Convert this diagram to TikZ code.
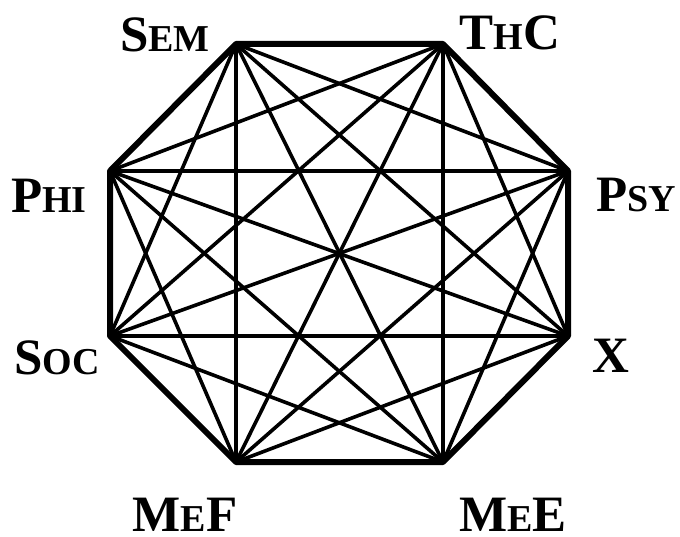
\documentclass[tikz,border=0pt]{standalone}
\usepackage{fontspec}
\setmainfont{Liberation Serif}
\newcommand{\bigL}[1]{{\fontsize{51}{51}\selectfont #1}}
\newcommand{\smL}[1]{{\fontsize{38}{38}\selectfont #1}}
\begin{document}
\begin{tikzpicture}[x=1pt,y=-1pt,
  edge/.style={line width=3.6pt,line cap=round},
  rim/.style={line width=6pt,line join=round,line cap=round},
  lab/.style={font=\bfseries,inner sep=0pt,anchor=base}]
\useasboundingbox (0,0) rectangle (680,537);
\coordinate (v1) at (236,44);
\coordinate (v2) at (443,44);
\coordinate (v3) at (568,171);
\coordinate (v4) at (568,336);
\coordinate (v5) at (443,462);
\coordinate (v6) at (236,462);
\coordinate (v7) at (110,336);
\coordinate (v8) at (110,171);
\foreach \i in {1,...,8}{
  \foreach \j in {1,...,8}{
    \ifnum\i<\j
      \draw[edge] (v\i) -- (v\j);
    \fi
  }
}
\draw[rim] (v1) -- (v2) -- (v3) -- (v4) -- (v5) -- (v6) -- (v7) -- (v8) -- cycle;
\node[lab] (sem) at (165,52) {\bigL{S}\smL{EM}};
\node[lab] (thc) at (510,50) {\bigL{T}\smL{H}\bigL{C}};
\node[lab] (phi) at (49,213) {\bigL{P}\smL{HI}};
\node[lab] (psy) at (636,212) {\bigL{P}\smL{SY}};
\node[lab] (soc) at (57,374) {\bigL{S}\smL{OC}};
\node[lab] (x) at (611,372) {\bigL{X}};
\node[lab] (mef) at (185,531) {\bigL{M}\smL{E}\bigL{F}};
\node[lab] (mee) at (513,531) {\bigL{M}\smL{E}\bigL{E}};
\end{tikzpicture}
\end{document}
